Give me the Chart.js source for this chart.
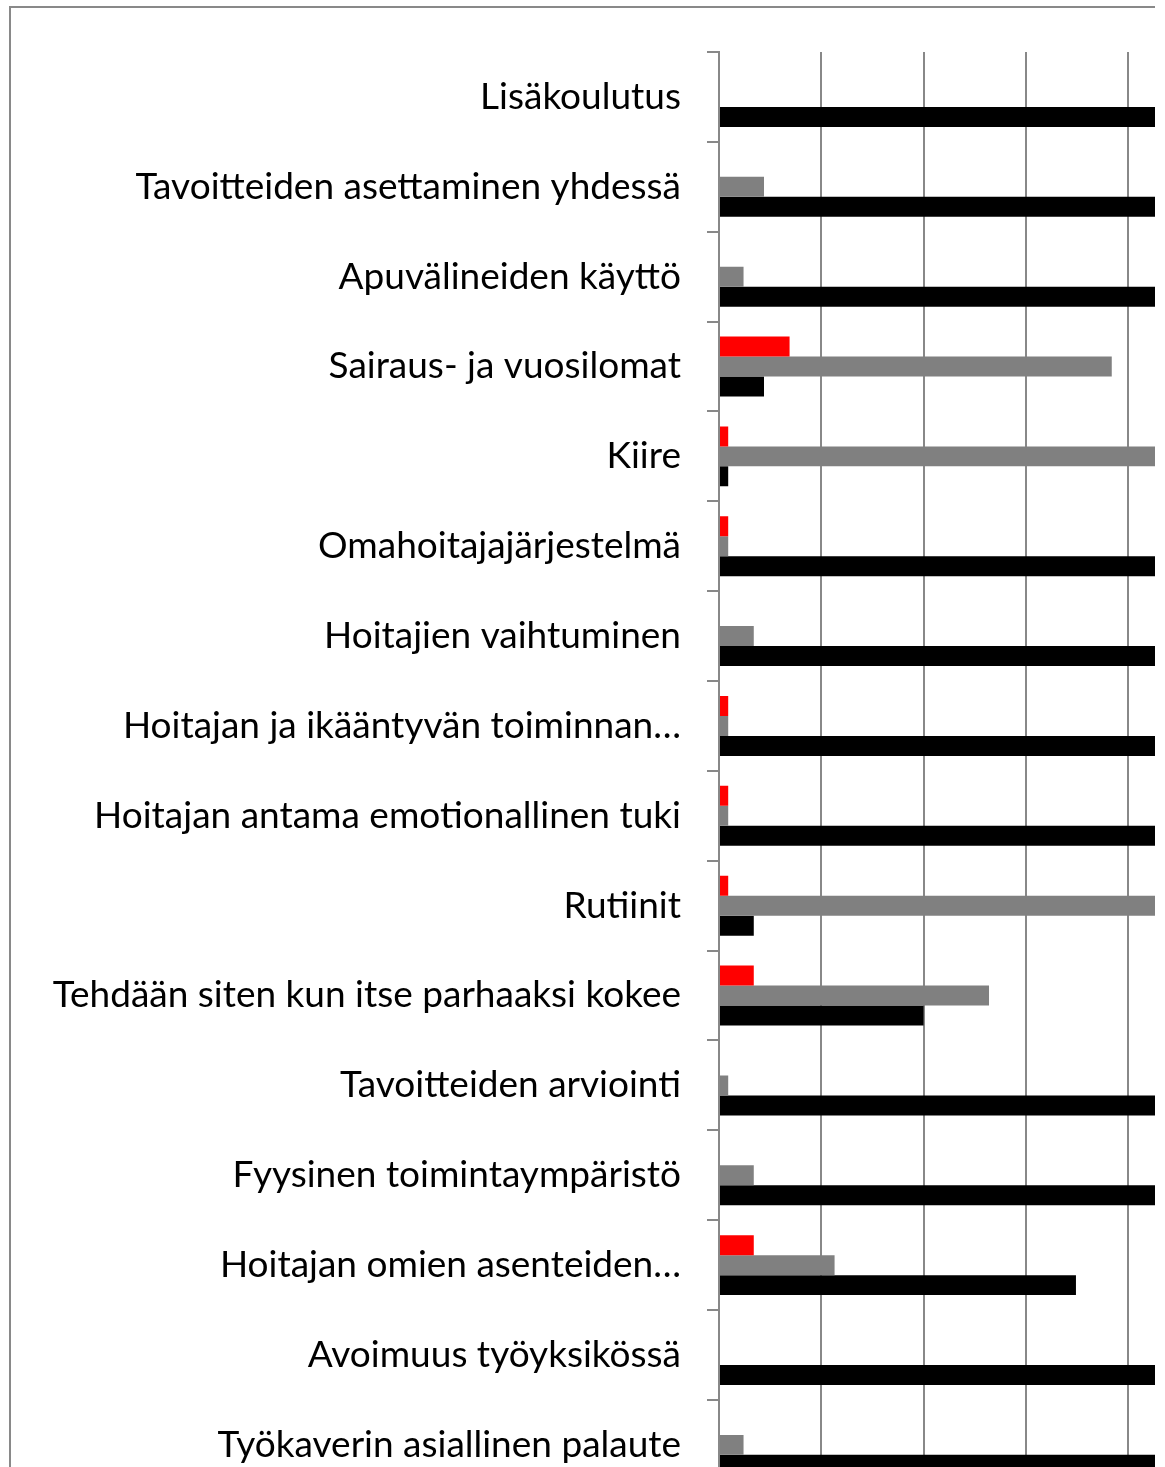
<!DOCTYPE html>
<html lang="fi">
<head>
<meta charset="utf-8">
<title>Hoitotyön tekijät</title>
<script src="https://cdn.jsdelivr.net/npm/chart.js@4.4.1/dist/chart.umd.min.js"></script>
<style>
    html, body {
        margin: 0;
        padding: 0;
        background: #ffffff;
        overflow: hidden;
    }
    #page {
        position: relative;
        width: 1155px;
        height: 1467px;
        overflow: hidden;
        background: #ffffff;
    }
    #frame {
        position: absolute;
        left: 9px;
        top: 6px;
        width: 2000px;
        height: 2000px;
        border-left: 2px solid #898989;
        border-top: 2px solid #898989;
    }
    #chart {
        position: absolute;
        left: 0;
        top: 0;
    }
</style>
</head>
<body>
<div id="page">
    <div id="frame"></div>
    <canvas id="chart" width="1780" height="1538"></canvas>
</div>

<script>
// Chart data (x axis 0-100)
const categories = [
    'Lisäkoulutus',
    'Tavoitteiden asettaminen yhdessä',
    'Apuvälineiden käyttö',
    'Sairaus- ja vuosilomat',
    'Kiire',
    'Omahoitajajärjestelmä',
    'Hoitajien vaihtuminen',
    'Hoitajan ja ikääntyvän toiminnan…',
    'Hoitajan antama emotionallinen tuki',
    'Rutiinit',
    'Tehdään siten kun itse parhaaksi kokee',
    'Tavoitteiden arviointi',
    'Fyysinen toimintaympäristö',
    'Hoitajan omien asenteiden…',
    'Avoimuus työyksikössä',
    'Työkaverin asiallinen palaute'
];

const redValues   = [0, 0, 0, 6.9, 0.9, 0.9, 0, 0.9, 0.9, 0.9, 3.4, 0, 0, 3.4, 0, 0];
const grayValues  = [0, 4.4, 2.4, 38.4, 98.1, 0.9, 3.4, 0.9, 0.9, 95.7, 26.4, 0.9, 3.4, 11.3, 0, 2.4];
const blackValues = [100, 95.6, 97.6, 4.4, 0.9, 98.2, 96.6, 98.2, 98.2, 3.4, 20, 99.1, 96.6, 34.9, 100, 97.6];

const xTicks = [0, 10, 20, 30, 40, 50, 60, 70, 80, 90, 100];

const gridColor = '#888888';
const labelFont = { family: 'Lato', size: 37 };

const ctx = document.getElementById('chart').getContext('2d');

new Chart(ctx, {
    type: 'bar',
    data: {
        labels: categories,
        datasets: [
            { label: 'Estää', data: redValues, backgroundColor: '#ff0000' },
            { label: 'Ei vaikutusta', data: grayValues, backgroundColor: '#808080' },
            { label: 'Edistää', data: blackValues, backgroundColor: '#000000' }
        ]
    },
    options: {
        indexAxis: 'y',
        responsive: false,
        animation: false,
        categoryPercentage: 0.667,
        barPercentage: 1.0,
        layout: {
            padding: { top: 52, left: 0, right: 30, bottom: 0 }
        },
        plugins: {
            legend: { display: false },
            tooltip: { enabled: false }
        },
        scales: {
            x: {
                min: xTicks[0],
                max: xTicks[xTicks.length - 1],
                afterBuildTicks: axis => {
                    axis.ticks = xTicks.map(v => ({ value: v }));
                },
                afterFit: axis => {
                    axis.height = 39;
                },
                grid: {
                    color: gridColor,
                    lineWidth: 2,
                    drawTicks: false
                },
                border: { display: false },
                ticks: {
                    color: '#000000',
                    font: labelFont,
                    padding: 6
                }
            },
            y: {
                afterFit: axis => {
                    axis.width = 719;
                },
                grid: {
                    offset: true,
                    drawOnChartArea: false,
                    drawTicks: true,
                    tickLength: 12,
                    color: gridColor,
                    lineWidth: 2
                },
                border: {
                    display: true,
                    color: gridColor,
                    width: 2
                },
                ticks: {
                    color: '#000000',
                    font: labelFont,
                    padding: 26,
                    autoSkip: false
                }
            }
        }
    }
});
</script>
</body>
</html>
